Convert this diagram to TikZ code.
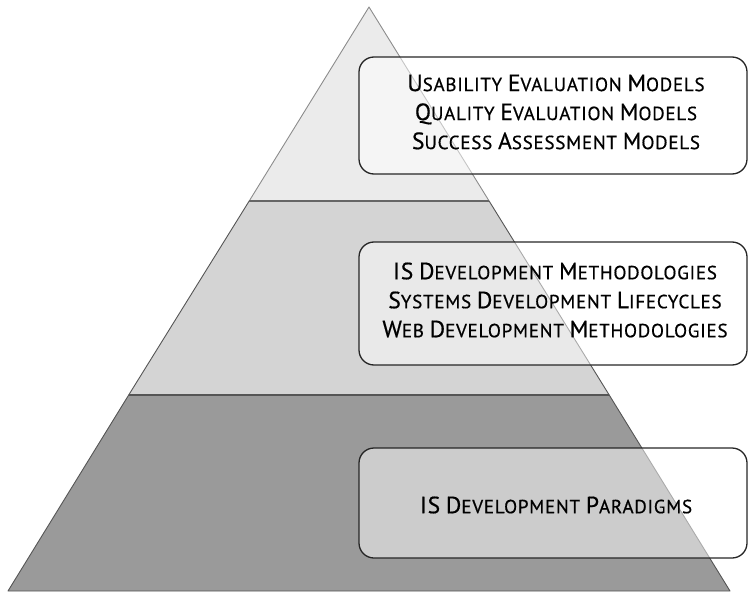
\documentclass[tikz,border=0pt]{standalone}
\usepackage{fontspec}
\newfontfamily\boxfont[LetterSpace=4,FakeBold=0.6]{PT Sans}
% fake small caps: first letter large, the rest in smaller capitals
\newcommand\fsc[2]{{\fontsize{23.5}{29}\selectfont #1}{\fontsize{19}{29}\selectfont #2}}
\definecolor{bandtop}{HTML}{EBEBEB}
\definecolor{bandmid}{HTML}{D4D4D4}
\definecolor{bandlow}{HTML}{9A9A9A}
\definecolor{edge}{HTML}{555555}
\tikzset{
  band/.style={draw=edge, line width=0.9pt, line join=round},
  layerbox/.style={draw=black!85, line width=1.3pt, rounded corners=15pt,
                   fill=white, fill opacity=0.5},
  layertext/.style={font=\boxfont\fontsize{19}{29}\selectfont, align=center,
                    text=black, inner sep=0pt}
}
\begin{document}
\begin{tikzpicture}[x=1pt,y=-1pt]
  \useasboundingbox (0,0) rectangle (750,594);
  % pyramid corners and band boundaries
  \coordinate (apex) at (369,7);
  \coordinate (bl) at (8,591);
  \coordinate (br) at (730,591);
  \coordinate (l1) at (249.2,201);
  \coordinate (r1) at (489.1,201);
  \coordinate (l2) at (128.7,395);
  \coordinate (r2) at (609.2,395);
  % three bands of the pyramid
  \path[band, fill=bandlow] (l2) -- (r2) -- (br) -- (bl) -- cycle;
  \path[band, fill=bandmid] (l1) -- (r1) -- (r2) -- (l2) -- cycle;
  \path[band, fill=bandtop, draw=black!45] (apex) -- (r1) -- (l1) -- cycle;
  \draw[edge, line width=1.4pt] (l2) -- (r2);
  \draw[black!60, line width=1.1pt] (l1) -- (r1);
  % translucent label boxes
  \draw[layerbox] (359,57) rectangle (747,174);
  \draw[layerbox] (359,242) rectangle (747,365);
  \draw[layerbox] (359,448) rectangle (747,558);
  % labels
  \node[layertext] (t1) at (556,112) {\fsc{U}{SABILITY} \fsc{E}{VALUATION} \fsc{M}{ODELS}\\
    \fsc{Q}{UALITY} \fsc{E}{VALUATION} \fsc{M}{ODELS}\\
    \fsc{S}{UCCESS} \fsc{A}{SSESSMENT} \fsc{M}{ODELS}};
  \node[layertext] (t2) at (555,300) {\fsc{IS}{} \fsc{D}{EVELOPMENT} \fsc{M}{ETHODOLOGIES}\\
    \fsc{S}{YSTEMS} \fsc{D}{EVELOPMENT} \fsc{L}{IFECYCLES}\\
    \fsc{W}{EB} \fsc{D}{EVELOPMENT} \fsc{M}{ETHODOLOGIES}};
  \node[layertext] (t3) at (556,505) {\fsc{IS}{} \fsc{D}{EVELOPMENT} \fsc{P}{ARADIGMS}};
\end{tikzpicture}
\end{document}
